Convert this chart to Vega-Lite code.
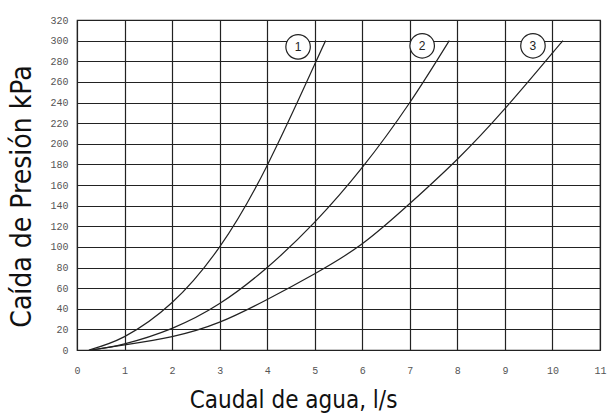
{
  "$schema": "https://vega.github.io/schema/vega-lite/v6.json",
  "autosize": {"type": "none"},
  "padding": {"left": 77, "top": 20, "right": 9, "bottom": 65},
  "width": 523,
  "height": 330,
  "background": "white",
  "config": {
    "view": {"stroke": "#222", "strokeWidth": 1.2},
    "axis": {
      "grid": true,
      "gridColor": "#222",
      "gridWidth": 1.2,
      "gridOpacity": 1,
      "domain": false,
      "ticks": false,
      "labelFont": "Liberation Mono",
      "labelFontSize": 10,
      "labelColor": "#555",
      "titleFont": "DejaVu Sans Condensed, sans-serif",
      "titleFontWeight": "normal",
      "titleColor": "#111"
    }
  },
  "datasets": {
    "curves": [
      {"serie": "1", "q": 0.25, "p": 0},
      {"serie": "1", "q": 1, "p": 13},
      {"serie": "1", "q": 2, "p": 46},
      {"serie": "1", "q": 3, "p": 100},
      {"serie": "1", "q": 4, "p": 179},
      {"serie": "1", "q": 5, "p": 277},
      {"serie": "1", "q": 5.23, "p": 300},
      {"serie": "2", "q": 0.3, "p": 0},
      {"serie": "2", "q": 1, "p": 6},
      {"serie": "2", "q": 2, "p": 21},
      {"serie": "2", "q": 3, "p": 45},
      {"serie": "2", "q": 4, "p": 80},
      {"serie": "2", "q": 5, "p": 124},
      {"serie": "2", "q": 6, "p": 177},
      {"serie": "2", "q": 7, "p": 240},
      {"serie": "2", "q": 7.83, "p": 300},
      {"serie": "3", "q": 0.3, "p": 0},
      {"serie": "3", "q": 1, "p": 5},
      {"serie": "3", "q": 2, "p": 13},
      {"serie": "3", "q": 3, "p": 27},
      {"serie": "3", "q": 4, "p": 49},
      {"serie": "3", "q": 5, "p": 74},
      {"serie": "3", "q": 6, "p": 103},
      {"serie": "3", "q": 7, "p": 142},
      {"serie": "3", "q": 8, "p": 185},
      {"serie": "3", "q": 9, "p": 234},
      {"serie": "3", "q": 10, "p": 288},
      {"serie": "3", "q": 10.22, "p": 300}
    ],
    "labels": [
      {"serie": "1", "q": 4.65, "p": 294},
      {"serie": "2", "q": 7.26, "p": 295},
      {"serie": "3", "q": 9.59, "p": 295}
    ]
  },
  "encoding": {
    "x": {
      "field": "q", "type": "quantitative",
      "scale": {"domain": [0, 11], "nice": false, "zero": false},
      "axis": {
        "title": "Caudal de agua, l/s",
        "values": [0,1,2,3,4,5,6,7,8,9,10,11],
        "labelPadding": 15,
        "labelFlush": false,
        "titleFontSize": 24,
        "titleX": 216,
        "titleY": 57,
        "titleAnchor": null,
        "titleAlign": "center",
        "titleBaseline": "alphabetic"
      }
    },
    "y": {
      "field": "p", "type": "quantitative",
      "scale": {"domain": [0, 320], "nice": false},
      "axis": {
        "title": "Caída de Presión kPa",
        "values": [0,20,40,60,80,100,120,140,160,180,200,220,240,260,280,300,320],
        "labelPadding": 9,
        "labelFlush": false,
        "titleFontSize": 28,
        "titleX": -55,
        "titleY": 176,
        "titleAngle": -90,
        "titleAlign": "center",
        "titleBaseline": "middle"
      }
    }
  },
  "layer": [
    {
      "data": {"name": "curves"},
      "mark": {"type": "line", "interpolate": "natural", "color": "#222", "strokeWidth": 1.2, "clip": true},
      "encoding": {"detail": {"field": "serie"}}
    },
    {
      "data": {"name": "labels"},
      "mark": {"type": "point", "shape": "circle", "size": 600, "filled": true, "fill": "white", "stroke": "#222", "strokeWidth": 1.2, "opacity": 1}
    },
    {
      "data": {"name": "labels"},
      "mark": {"type": "text", "font": "Liberation Sans", "fontSize": 12, "color": "#222", "baseline": "middle", "align": "center"},
      "encoding": {"text": {"field": "serie"}}
    }
  ]
}
